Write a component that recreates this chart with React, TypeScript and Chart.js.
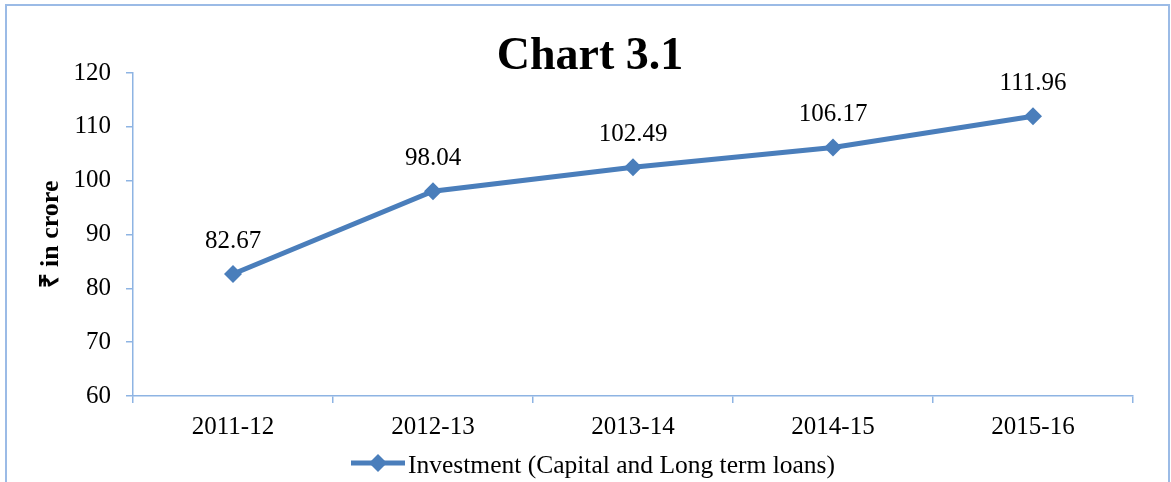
import React, { useEffect, useRef } from "react";
import { Chart, registerables } from "chart.js";

Chart.register(...registerables);

const categories = ["2011-12", "2012-13", "2013-14", "2014-15", "2015-16"];
const investment = [82.67, 98.04, 102.49, 106.17, 111.96];
const seriesLabel = "Investment (Capital and Long term loans)";
const chartTitle = "Chart 3.1";
const yAxisTitle = "₹ in crore";
const yMin = 60;
const yMax = 120;
const yStep = 10;

const SERIF = "'Liberation Serif', 'Times New Roman', serif";
const LINE_COLOR = "#4A7EBB";
const AXIS_COLOR = "#8EB4E3";

const decorPlugin = {
  id: "decor",
  beforeDraw(chart: any) {
    const ctx = chart.ctx;
    ctx.save();
    ctx.fillStyle = "#ffffff";
    ctx.fillRect(0, 0, chart.width, chart.height);
    ctx.strokeStyle = "#9BBBE6";
    ctx.lineWidth = 2;
    ctx.strokeRect(6, 5, 1163, 500);
    ctx.restore();
  },
  afterDatasetsDraw(chart: any) {
    const ctx = chart.ctx;
    ctx.save();
    // title
    ctx.fillStyle = "#000";
    ctx.font = `bold 46px ${SERIF}`;
    ctx.textAlign = "center";
    ctx.textBaseline = "alphabetic";
    ctx.fillText(chartTitle, 590, 69);
    // data labels
    const meta = chart.getDatasetMeta(0);
    ctx.font = `25px ${SERIF}`;
    meta.data.forEach((pt: any, i: number) => {
      ctx.fillText(investment[i].toFixed(2), pt.x, pt.y - 26);
    });
    // legend
    ctx.strokeStyle = LINE_COLOR;
    ctx.lineWidth = 5;
    ctx.beginPath();
    ctx.moveTo(351, 463);
    ctx.lineTo(405, 463);
    ctx.stroke();
    ctx.fillStyle = LINE_COLOR;
    ctx.beginPath();
    ctx.moveTo(378 - 9, 463);
    ctx.lineTo(378, 463 - 9);
    ctx.lineTo(378 + 9, 463);
    ctx.lineTo(378, 463 + 9);
    ctx.closePath();
    ctx.fill();
    ctx.fillStyle = "#000";
    ctx.textAlign = "left";
    ctx.font = `25.5px ${SERIF}`;
    ctx.fillText(seriesLabel, 408, 473);
    ctx.restore();
  },
};

export default function App() {
  const ref = useRef<HTMLCanvasElement>(null);
  useEffect(() => {
    if (!ref.current) return;
    const chart = new Chart(ref.current, {
      type: "line",
      data: {
        labels: categories,
        datasets: [
          {
            label: seriesLabel,
            data: investment,
            borderColor: LINE_COLOR,
            backgroundColor: LINE_COLOR,
            borderWidth: 5,
            pointStyle: "rectRot",
            pointRadius: 9,
            pointBorderWidth: 0,
            pointBackgroundColor: LINE_COLOR,
            tension: 0,
          },
        ],
      },
      options: {
        animation: false,
        responsive: false,
        layout: { padding: { top: 73, right: 38, bottom: 0, left: 0 } },
        plugins: {
          legend: { display: false },
          title: { display: false },
          tooltip: { enabled: false },
        },
        scales: {
          x: {
            offset: true,
            afterFit: (s: any) => {
              s.height = 86;
            },
            grid: {
              display: true,
              offset: true,
              drawOnChartArea: false,
              drawTicks: true,
              tickLength: 7,
              color: AXIS_COLOR,
              lineWidth: 1.5,
            },
            border: { display: true, color: AXIS_COLOR, width: 1.5 },
            ticks: {
              color: "#000",
              font: { family: SERIF, size: 25 },
              padding: 9,
              maxRotation: 0,
            },
          },
          y: {
            min: yMin,
            max: yMax,
            afterFit: (s: any) => {
              s.width = 133;
            },
            grid: {
              display: true,
              drawOnChartArea: false,
              drawTicks: true,
              tickLength: 7,
              color: AXIS_COLOR,
              lineWidth: 1.5,
            },
            border: { display: true, color: AXIS_COLOR, width: 1.5 },
            ticks: {
              stepSize: yStep,
              color: "#000",
              font: { family: SERIF, size: 25 },
              padding: 15,
            },
            title: {
              display: true,
              text: yAxisTitle,
              color: "#000",
              font: { family: SERIF, size: 26, weight: "bold" },
              padding: { top: 36, bottom: 0 },
            },
          },
        },
      },
      plugins: [decorPlugin],
    });
    return () => chart.destroy();
  }, []);
  return (
    <div style={{ position: "fixed", left: 0, top: 0, width: 1171, height: 482 }}>
      <canvas ref={ref} width={1171} height={482} style={{ display: "block" }} />
    </div>
  );
}
